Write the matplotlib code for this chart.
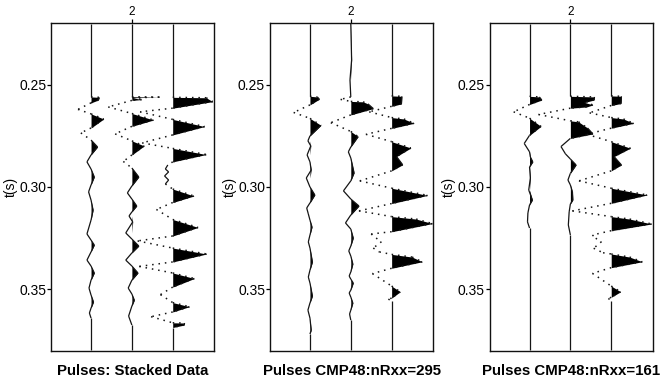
import numpy as np
import matplotlib
matplotlib.use('Agg')
import matplotlib.pyplot as plt
from matplotlib.collections import LineCollection

plt.rcParams['font.family'] = ['Liberation Sans', 'DejaVu Sans']

titles = ['Pulses: Stacked Data', 'Pulses CMP48:nRxx=295', 'Pulses CMP48:nRxx=161']
trace_pos = [1, 2, 3]
y_ticks = [0.25, 0.30, 0.35]
top_tick = [2]

# ---- panel 1: stacked data ----
p1_t1 = [0.2200, 0.2559, 0.2561, 0.2574, 0.2588, 0.2620, 0.2642, 0.2667, 0.2711, 0.2735, 0.2770, 0.2804,
         0.2843, 0.2877, 0.2912, 0.2951, 0.2990, 0.3024, 0.3064, 0.3113, 0.3162, 0.3230, 0.3260, 0.3284,
         0.3318, 0.3358, 0.3387, 0.3421, 0.3456, 0.3495, 0.3529, 0.3563, 0.3593, 0.3617, 0.3642, 0.3800]
p1_a1 = [0, 0, 0.20, 0.18, 0, -0.32, 0, 0.31, 0, -0.25, 0, 0.16,
         0, -0.10, 0, 0.08, 0, -0.06, 0, 0.05, 0, -0.10, 0, 0.08,
         0, -0.10, 0, 0.08, 0, -0.05, 0, 0.06, 0, -0.04, 0, 0]

p1_t2 = [0.2200, 0.2558, 0.2560, 0.2563, 0.2572, 0.2576, 0.2608, 0.2640, 0.2672, 0.2703, 0.2740, 0.2774,
         0.2799, 0.2843, 0.2875, 0.2907, 0.2951, 0.2995, 0.3029, 0.3059, 0.3093, 0.3122, 0.3142, 0.3171,
         0.3225, 0.3255, 0.3289, 0.3323, 0.3358, 0.3387, 0.3421, 0.3456, 0.3495, 0.3524, 0.3554, 0.3583,
         0.3632, 0.3676, 0.3800]
p1_a2 = [0, 0, 0.68, 0.02, 0.24, 0, -0.58, 0, 0.53, 0, -0.41, 0,
         0.30, 0, -0.21, 0, 0.17, 0, -0.11, 0, 0.12, 0, -0.07, 0.02,
         -0.15, 0, 0.17, 0, -0.15, 0, 0.15, 0, -0.09, 0, 0.06, 0,
         -0.08, 0, 0]

p1_t3 = [0.2200, 0.2561, 0.2563, 0.2582, 0.2614, 0.2632, 0.2669, 0.2704, 0.2745, 0.2784, 0.2811, 0.2841,
         0.2877, 0.2892, 0.2912, 0.2926, 0.2946, 0.2966, 0.2985, 0.3010, 0.3044, 0.3076, 0.3110, 0.3159,
         0.3198, 0.3240, 0.3264, 0.3299, 0.3328, 0.3367, 0.3389, 0.3421, 0.3448, 0.3490, 0.3527, 0.3566,
         0.3586, 0.3612, 0.3635, 0.3665, 0.3666, 0.3676, 0.3688, 0.3800]
p1_a3 = [0, 0, 0.82, 0.98, 0, -0.80, 0, 0.78, 0, -0.75, 0, 0.82,
         0, -0.12, -0.18, -0.10, -0.20, -0.10, -0.18, 0, 0.52, 0, -0.40, 0,
         0.62, 0, -0.86, 0, 0.83, 0, -0.82, 0, 0.53, 0, -0.30, 0,
         0.41, 0, -0.53, 0, 0.29, 0.28, 0, 0]

# ---- panel 2: CMP48, nRxx=295 ----
p2_t1 = [0.2200, 0.2556, 0.2559, 0.2570, 0.2598, 0.2635, 0.2664, 0.2698, 0.2750, 0.2774, 0.2799, 0.2843,
         0.2877, 0.2917, 0.2956, 0.3000, 0.3039, 0.3078, 0.3103, 0.3132, 0.3162, 0.3196, 0.3235, 0.3269,
         0.3299, 0.3367, 0.3407, 0.3441, 0.3470, 0.3534, 0.3568, 0.3603, 0.3642, 0.3701, 0.3720, 0.3800]
p2_a1 = [0, 0, 0.18, 0.23, 0, -0.40, 0, 0.27, 0, -0.05, 0.02, -0.07,
         0, 0.03, -0.09, 0, 0.12, 0, -0.08, -0.04, 0, 0.05, 0, -0.04,
         0, 0.06, 0, -0.04, 0, 0.06, 0, -0.05, 0, 0.03, 0, 0]

p2_t2 = [0.2200, 0.2378, 0.2476, 0.2559, 0.2571, 0.2581, 0.2583, 0.2593, 0.2616, 0.2647, 0.2685, 0.2728,
         0.2753, 0.2804, 0.2828, 0.2858, 0.2931, 0.2970, 0.3019, 0.3059, 0.3093, 0.3137, 0.3176, 0.3206,
         0.3250, 0.3289, 0.3313, 0.3338, 0.3377, 0.3416, 0.3436, 0.3451, 0.3470, 0.3505, 0.3519, 0.3539,
         0.3568, 0.3603, 0.3622, 0.3652, 0.3800]
p2_a2 = [0, 0.02, -0.02, 0, -0.25, 0, 0.30, 0.42, 0.55, 0, -0.49, 0,
         0.18, 0, -0.06, 0, 0.08, 0, -0.18, 0, 0.20, 0, -0.13, 0,
         0.06, 0, -0.05, 0, 0.05, 0, -0.04, 0, 0.06, 0, -0.04, 0,
         0.05, 0, -0.03, 0, 0]

p2_t3 = [0.2200, 0.2554, 0.2556, 0.2593, 0.2605, 0.2632, 0.2660, 0.2667, 0.2688, 0.2713, 0.2742, 0.2778,
         0.2809, 0.2851, 0.2891, 0.2921, 0.2970, 0.3006, 0.3041, 0.3081, 0.3117, 0.3145, 0.3157, 0.3179,
         0.3219, 0.3230, 0.3250, 0.3268, 0.3299, 0.3318, 0.3330, 0.3343, 0.3366, 0.3398, 0.3424, 0.3485,
         0.3513, 0.3544, 0.3549, 0.3558, 0.3800]
p2_a3 = [0, 0, 0.25, 0.24, 0, -0.55, 0, 0.30, 0.55, 0, -0.63, 0,
         0.47, 0.12, 0.27, 0, -0.78, 0, 0.88, 0, -0.80, 0, 0.60, 1.00,
         0, -0.50, -0.38, -0.25, -0.45, -0.30, 0, 0.50, 0.75, 0, -0.47, 0,
         0.21, 0, -0.08, 0, 0]

# ---- panel 3: CMP48, nRxx=161 ----
p3_t1 = [0.2200, 0.2556, 0.2559, 0.2574, 0.2596, 0.2632, 0.2663, 0.2703, 0.2747, 0.2787, 0.2828, 0.2853,
         0.2877, 0.2902, 0.2956, 0.3015, 0.3064, 0.3088, 0.3127, 0.3171, 0.3201, 0.3800]
p3_a1 = [0, 0, 0.24, 0.30, 0, -0.39, 0, 0.28, 0, -0.13, 0, 0.02,
         0.08, 0, 0.02, -0.02, 0.07, 0, -0.04, -0.05, 0, 0]

p3_t2 = [0.2200, 0.2556, 0.2559, 0.2574, 0.2586, 0.2598, 0.2608, 0.2614, 0.2645, 0.2676, 0.2681, 0.2711,
         0.2740, 0.2762, 0.2802, 0.2838, 0.2863, 0.2892, 0.2933, 0.2966, 0.2990, 0.3024, 0.3064, 0.3083,
         0.3122, 0.3186, 0.3235, 0.3800]
p3_a2 = [0, 0, 0.59, 0.58, 0.35, 0.55, 0.40, 0, -0.78, 0, 0.20, 0.42,
         0.55, 0, -0.23, -0.12, 0, 0.14, 0, -0.06, 0, 0.05, 0.06, 0,
         -0.03, -0.05, 0, 0]

p3_t3 = [0.2200, 0.2554, 0.2556, 0.2591, 0.2601, 0.2637, 0.2660, 0.2667, 0.2688, 0.2712, 0.2742, 0.2778,
         0.2810, 0.2851, 0.2892, 0.2921, 0.2970, 0.3006, 0.3039, 0.3080, 0.3117, 0.3145, 0.3157, 0.3181,
         0.3214, 0.3235, 0.3251, 0.3268, 0.3300, 0.3322, 0.3328, 0.3343, 0.3366, 0.3395, 0.3423, 0.3485,
         0.3513, 0.3540, 0.3546, 0.3556, 0.3800]
p3_a3 = [0, 0, 0.25, 0.24, 0, -0.53, 0, 0.30, 0.55, 0, -0.60, 0,
         0.47, 0.07, 0.25, 0, -0.79, 0, 0.88, 0, -0.95, 0, 0.45, 0.99,
         0, -0.46, -0.38, -0.24, -0.43, -0.20, 0, 0.45, 0.76, 0, -0.46, 0,
         0.23, 0, -0.07, 0, 0]

panels = [
    [(p1_t1, p1_a1), (p1_t2, p1_a2), (p1_t3, p1_a3)],
    [(p2_t1, p2_a1), (p2_t2, p2_a2), (p2_t3, p2_a3)],
    [(p3_t1, p3_a1), (p3_t2, p3_a2), (p3_t3, p3_a3)],
]

# pixel scale of the plot, used to decide which segments look dotted
PX_PER_TRACE = 41.0
PX_PER_SEC = 2040.0
INK = '#151515'


def draw_trace(ax, pos, t, a):
    t = np.asarray(t, dtype=float)
    a = np.asarray(a, dtype=float)
    # filled positive lobes
    ax.fill_betweenx(t, pos, pos + np.clip(a, 0, None), color='black', lw=0)
    pts = np.column_stack([pos + a, t])
    segs = np.stack([pts[:-1], pts[1:]], axis=1)
    # fast horizontal swings (and deep troughs) render as separate sample dots
    steep = np.abs(np.diff(a)) * PX_PER_TRACE > 1.2 * np.diff(t) * PX_PER_SEC
    deep = (a[:-1] < -0.15) & (a[1:] < -0.15)
    dotted = steep | deep
    ax.add_collection(LineCollection(segs[~dotted], colors=INK, linewidths=0.9))
    ax.add_collection(LineCollection(segs[dotted], colors=INK, linewidths=1.1,
                                     linestyles=[(0, (1, 3.2))]))


fig = plt.figure(figsize=(6.6, 3.77), dpi=100)
lefts = [0.0773, 0.409, 0.7417]

for left, title, traces in zip(lefts, titles, panels):
    ax = fig.add_axes([left, 0.069, 0.2475, 0.870])
    for pos, (t, a) in zip(trace_pos, traces):
        draw_trace(ax, pos, t, a)
    ax.set_xlim(0.02, 4.02)
    ax.set_ylim(0.3803, 0.2197)
    ax.set_yticks(y_ticks)
    ax.set_yticklabels(['%.2f' % v for v in y_ticks])
    ax.xaxis.tick_top()
    ax.set_xticks(top_tick)
    ax.set_xticklabels([str(v) for v in top_tick])
    ax.tick_params(axis='y', direction='out', length=3, width=0.9, labelsize=10, pad=0.5)
    ax.tick_params(axis='x', direction='out', length=3, width=0.9, labelsize=8.5, pad=0.5)
    ax.set_ylabel('t(s)', fontsize=10, labelpad=1)
    for sp in ax.spines.values():
        sp.set_linewidth(1.0)
        sp.set_color('#111111')
    ax.text(0.5, -0.04, title, transform=ax.transAxes, ha='center', va='top',
            fontsize=10.8, fontweight='bold')

fig.savefig('out.png', dpi=100)
